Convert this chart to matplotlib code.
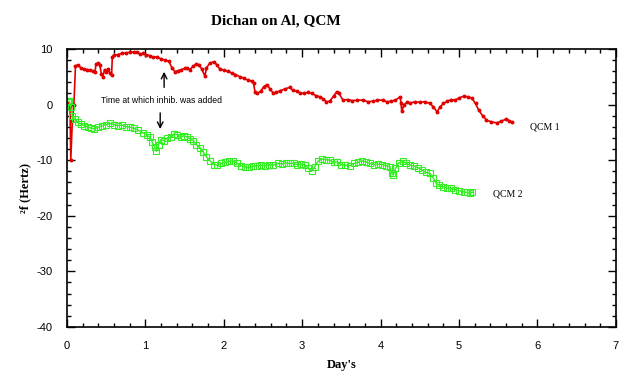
import numpy as np
import matplotlib.pyplot as plt
from matplotlib.ticker import MultipleLocator

plt.rcParams['axes.unicode_minus'] = False

# QCM 1 (red)
days1 = [0.02, 0.04, 0.05, 0.07, 0.09, 0.11, 0.14, 0.18, 0.22, 0.26, 0.29, 0.33,
         0.36, 0.37, 0.40, 0.42, 0.44, 0.46, 0.48, 0.50, 0.52, 0.55, 0.57, 0.58,
         0.60, 0.65, 0.70, 0.75, 0.80, 0.85, 0.89, 0.93, 0.97, 1.01, 1.06, 1.10,
         1.15, 1.20, 1.25, 1.30, 1.34, 1.38, 1.42, 1.46, 1.50, 1.53, 1.57, 1.61,
         1.65, 1.68, 1.72, 1.76, 1.78, 1.82, 1.87, 1.91, 1.95, 2.00, 2.05, 2.10,
         2.15, 2.21, 2.26, 2.31, 2.36, 2.38, 2.40, 2.43, 2.47, 2.51, 2.55, 2.59,
         2.63, 2.67, 2.72, 2.78, 2.84, 2.88, 2.93, 2.97, 3.02, 3.07, 3.12, 3.18,
         3.23, 3.27, 3.31, 3.35, 3.40, 3.44, 3.47, 3.52, 3.58, 3.64, 3.70, 3.78,
         3.84, 3.90, 3.96, 4.03, 4.08, 4.13, 4.19, 4.25, 4.26, 4.27, 4.30, 4.34,
         4.38, 4.44, 4.50, 4.56, 4.63, 4.67, 4.72, 4.76, 4.80, 4.85, 4.90, 4.95,
         5.00, 5.06, 5.11, 5.16, 5.21, 5.25, 5.30, 5.35, 5.41, 5.48, 5.54, 5.60,
         5.64, 5.67]
qcm1 = [0.3, -0.5, -10.0, -3.0, 0.0, 7.0, 7.1, 6.6, 6.4, 6.3, 6.2, 6.0,
        5.8, 7.3, 7.4, 7.1, 5.5, 5.0, 6.3, 5.8, 6.4, 5.6, 5.3, 8.6,
        8.9, 9.0, 9.2, 9.3, 9.4, 9.5, 9.5, 9.1, 9.2, 9.0, 8.8, 8.5,
        8.6, 8.2, 8.0, 7.8, 6.6, 5.9, 6.1, 6.3, 6.5, 6.6, 6.3, 6.9,
        7.3, 7.2, 6.4, 5.1, 6.6, 7.4, 7.7, 7.2, 6.4, 6.2, 6.0, 5.7,
        5.4, 5.0, 4.7, 4.4, 4.2, 3.8, 2.2, 2.0, 2.4, 3.2, 3.6, 2.8,
        2.1, 2.2, 2.5, 2.8, 3.1, 2.6, 2.4, 2.1, 2.0, 2.2, 2.0, 1.6,
        1.4, 1.0, 0.5, 0.6, 1.5, 2.3, 2.0, 0.8, 0.9, 0.7, 0.8, 0.8,
        0.5, 0.6, 0.8, 0.8, 0.5, 0.6, 0.8, 1.4, 0.2, -1.2, 0.0, 0.4,
        0.3, 0.5, 0.4, 0.5, 0.2, -0.4, -1.3, -0.4, 0.2, 0.6, 0.9, 0.8,
        1.2, 1.5, 1.4, 1.2, 0.2, -1.0, -2.0, -2.8, -3.1, -3.3, -3.0, -2.6,
        -2.9, -3.1]

# QCM 2 (green)
days2 = [0.01, 0.03, 0.05, 0.07, 0.10, 0.14, 0.18, 0.22, 0.27, 0.31, 0.35, 0.40,
         0.45, 0.50, 0.55, 0.60, 0.65, 0.70, 0.76, 0.81, 0.86, 0.91, 0.97, 1.02,
         1.06, 1.09, 1.12, 1.14, 1.17, 1.20, 1.24, 1.28, 1.33, 1.37, 1.41, 1.45,
         1.49, 1.53, 1.57, 1.61, 1.65, 1.70, 1.74, 1.78, 1.83, 1.88, 1.92, 1.97,
         2.02, 2.07, 2.12, 2.17, 2.22, 2.27, 2.32, 2.37, 2.42, 2.48, 2.53, 2.58,
         2.63, 2.69, 2.74, 2.79, 2.84, 2.89, 2.94, 2.99, 3.04, 3.08, 3.12, 3.16,
         3.20, 3.25, 3.30, 3.35, 3.40, 3.45, 3.50, 3.55, 3.61, 3.66, 3.71, 3.76,
         3.81, 3.86, 3.92, 3.97, 4.02, 4.07, 4.12, 4.14, 4.16, 4.19, 4.23, 4.28,
         4.33, 4.38, 4.43, 4.48, 4.53, 4.58, 4.63, 4.67, 4.71, 4.75, 4.80, 4.85,
         4.90, 4.95, 5.00, 5.06, 5.10, 5.14, 5.17]
qcm2 = [0.5, 0.6, -0.5, -2.0, -2.6, -3.2, -3.5, -3.8, -4.0, -4.2, -4.4, -4.1,
        -3.8, -3.6, -3.4, -3.6, -3.8, -3.7, -4.0, -4.1, -4.3, -4.6, -5.1, -5.5,
        -5.9, -6.8, -7.6, -8.4, -7.2, -6.3, -6.5, -6.0, -5.9, -5.3, -5.4, -5.9,
        -5.6, -5.8, -6.2, -6.5, -7.2, -7.8, -8.6, -9.4, -10.2, -10.8, -10.9, -10.6,
        -10.4, -10.2, -10.1, -10.6, -11.0, -11.2, -11.3, -11.1, -11.0, -10.9, -11.0, -10.8,
        -10.9, -10.6, -10.7, -10.5, -10.6, -10.6, -10.8, -10.7, -10.9, -11.5, -12.0, -11.2,
        -10.2, -9.8, -9.9, -10.0, -10.4, -10.3, -10.8, -10.9, -11.0, -10.6, -10.4, -10.1,
        -10.3, -10.6, -10.8, -10.7, -10.8, -11.0, -11.2, -12.3, -12.7, -11.5, -10.5, -10.2,
        -10.6, -10.9, -11.1, -11.4, -11.8, -12.2, -12.4, -13.2, -14.2, -14.5, -14.8, -15.0,
        -15.1, -15.3, -15.5, -15.7, -15.8, -16.0, -15.8]

serif = ['Liberation Serif', 'DejaVu Serif']
sans = ['Liberation Sans', 'DejaVu Sans']

fig = plt.figure(figsize=(6.19, 3.74), dpi=100)
ax = fig.add_axes([0.108, 0.126, 0.887, 0.743])

ax.plot(days1, qcm1, color='#e00000', lw=1.2, marker='o', ms=1.8)
ax.plot(days2, qcm2, color='#33ee22', lw=1.0, marker='s', ms=4.5, mfc='none', mew=0.8)

ax.set_xlim(0, 7)
ax.set_ylim(-40, 10)
ax.xaxis.set_major_locator(MultipleLocator(1))
ax.xaxis.set_minor_locator(MultipleLocator(0.2))
ax.yaxis.set_major_locator(MultipleLocator(10))
ax.yaxis.set_minor_locator(MultipleLocator(2))
ax.tick_params(which='both', direction='in', top=True, right=True, width=1.0,
               labelsize=8, pad=10)
ax.tick_params(which='major', length=6)
ax.tick_params(which='minor', length=3)
for lab in ax.get_xticklabels() + ax.get_yticklabels():
    lab.set_family(sans)
for s in ax.spines.values():
    s.set_linewidth(1.2)

ax.set_xlabel("Day's", family=serif, fontweight='bold', fontsize=9, labelpad=6)
ax.set_ylabel('²f (Hertz)', family=serif, fontweight='bold', fontsize=9, labelpad=4)
fig.text(0.445, 0.945, 'Dichan on Al, QCM', family=serif, fontweight='bold',
         fontsize=11, ha='center', va='center')

ax.text(1.21, 0.8, 'Time at which inhib. was added', family=sans, fontsize=6.2,
        ha='center', va='center')
ax.annotate('', xy=(1.24, 6.4), xytext=(1.24, 2.6),
            arrowprops=dict(arrowstyle='->', color='black', lw=1.0))
ax.annotate('', xy=(1.19, -4.9), xytext=(1.19, -1.0),
            arrowprops=dict(arrowstyle='->', color='black', lw=1.0))

ax.text(5.9, -4.0, 'QCM 1', family=serif, fontsize=7, ha='left', va='center')
ax.text(5.43, -16.1, 'QCM 2', family=serif, fontsize=7, ha='left', va='center')

plt.savefig('out.png', dpi=100)
